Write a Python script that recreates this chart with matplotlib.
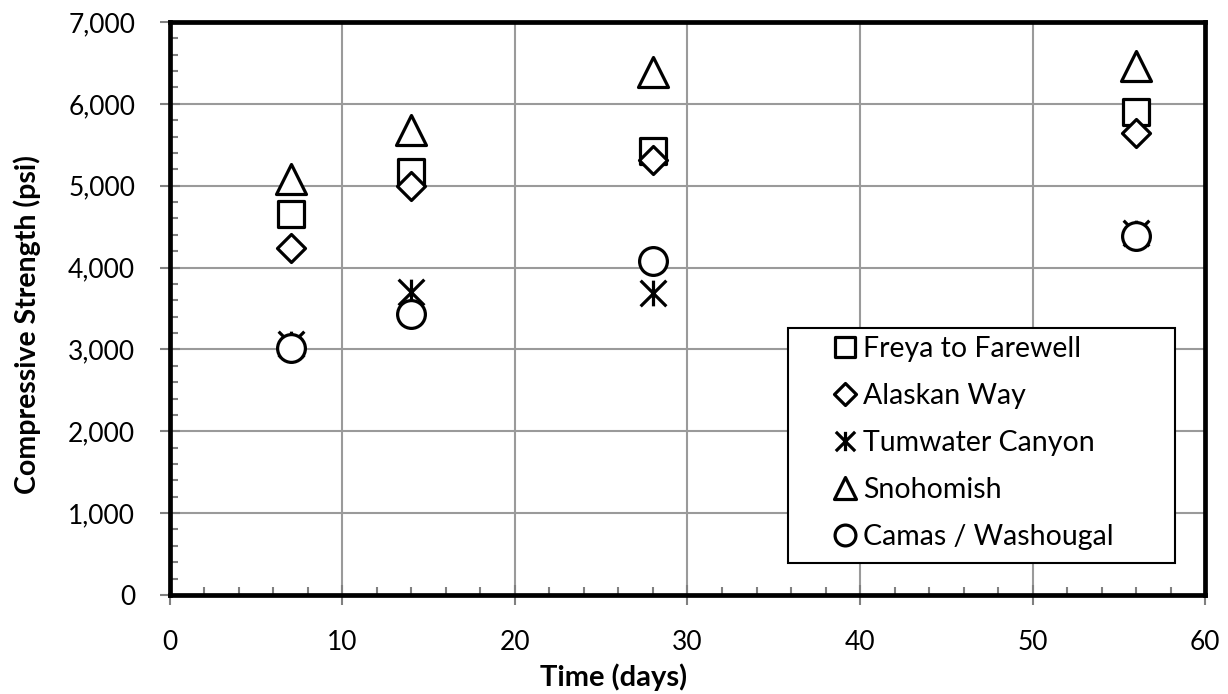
import matplotlib
matplotlib.use("Agg")
import matplotlib.pyplot as plt
from matplotlib.markers import MarkerStyle
from matplotlib.path import Path
from matplotlib.patches import Rectangle
from matplotlib.ticker import MultipleLocator, FuncFormatter

plt.rcParams['font.family'] = ['Lato', 'DejaVu Sans']

days = [7, 14, 28, 56]
freya = [4650, 5170, 5430, 5900]
alaskan = [4240, 5000, 5310, 5640]
tumwater = [3060, 3700, 3690, 4420]
snohomish = [5080, 5680, 6390, 6460]
camas = [3020, 3430, 4080, 4380]

# Excel-style asterisk: an X plus a vertical bar
star_path = Path([(-1, -1), (1, 1), (-1, 1), (1, -1), (0, -1), (0, 1)],
                 [Path.MOVETO, Path.LINETO, Path.MOVETO, Path.LINETO,
                  Path.MOVETO, Path.LINETO])

series = [
    ("Freya to Farewell", freya, 's', 19),
    ("Alaskan Way", alaskan, 'D', 14.5),
    ("Tumwater Canyon", tumwater, star_path, 18.5),
    ("Snohomish", snohomish, '^', 21),
    ("Camas / Washougal", camas, 'o', 20),
]

fig = plt.figure(figsize=(12.28, 6.94), dpi=100)
ax = fig.add_axes([0.1384, 0.1427, 0.8429, 0.8256])

for name, vals, m, ms in series:
    ax.plot(days, vals, linestyle='none',
            marker=MarkerStyle(m, joinstyle='round'), markersize=ms,
            markerfacecolor='white', markeredgecolor='black',
            markeredgewidth=2.3, label=name, zorder=3)

ax.set_xlim(0, 60)
ax.set_ylim(0, 7000)
ax.xaxis.set_major_locator(MultipleLocator(10))
ax.xaxis.set_minor_locator(MultipleLocator(2))
ax.yaxis.set_major_locator(MultipleLocator(1000))
ax.yaxis.set_minor_locator(MultipleLocator(200))
ax.yaxis.set_major_formatter(FuncFormatter(lambda v, p: f"{int(v):,}"))

ax.grid(True, which='major', color='#9a9a9a', linewidth=1.5, zorder=0)
ax.set_axisbelow(True)
for s in ax.spines.values():
    s.set_linewidth(3.4)
    s.set_color('black')

ax.tick_params(which='major', direction='inout', length=14, width=1.5,
               color='#808080', labelsize=19, pad=18)
ax.tick_params(which='minor', direction='in', length=6, width=1.5,
               color='#808080')

ax.set_xlabel("Time (days)", fontsize=21, fontweight='bold')
ax.set_ylabel("Compressive Strength (psi)", fontsize=20.5, fontweight='bold')
ax.yaxis.set_label_coords(27/1228, 1 - 325/694, transform=fig.transFigure)
ax.xaxis.set_label_coords(0.5, 1 - 677/694, transform=fig.transFigure)
ax.xaxis.label.set_verticalalignment('center')
ax.yaxis.label.set_verticalalignment('center')

# legend box (Excel style, wide padding)
box = Rectangle((788/1228, 1 - 563/694), (1175 - 788)/1228, (563 - 328)/694,
                transform=fig.transFigure, facecolor='white', edgecolor='black',
                linewidth=1.5, zorder=5)
fig.add_artist(box)

leg = ax.legend(loc='upper left', bbox_to_anchor=(836/1228, 1 - 336/694),
                bbox_transform=fig.transFigure, fontsize=20.5, frameon=False,
                handlelength=0.6, handletextpad=0.35, borderpad=0,
                labelspacing=0.74, markerscale=0.75, borderaxespad=0)
leg.set_zorder(6)
fig.add_artist(leg)

fig.savefig("out.png", dpi=100)
